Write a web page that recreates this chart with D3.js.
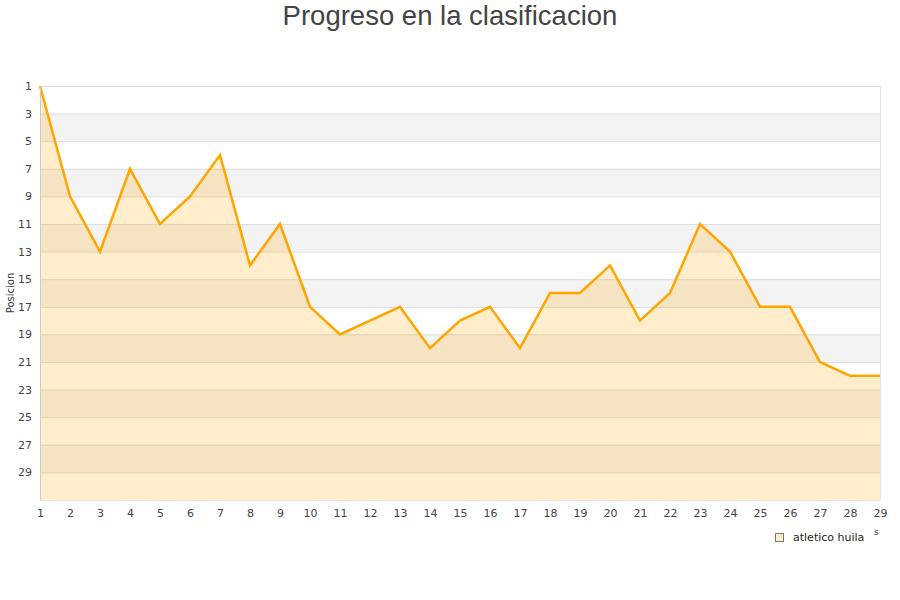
<!DOCTYPE html>
<html>
<head>
<meta charset="utf-8">
<script src="https://cdn.jsdelivr.net/npm/d3@7"></script>
<style>
  body { margin: 0; background: #fff; }
</style>
</head>
<body>
<div id="chart"></div>
<script>
const width = 900;
const height = 600;
const margin = { top: 86, right: 20, bottom: 100, left: 40 };

// jornadas y posicion de atletico huila
const jornadas = d3.range(1, 30);
const posiciones = [1, 9, 13, 7, 11, 9, 6, 14, 11, 17, 19, 18, 17, 20, 18, 17, 20, 16, 16, 14, 18, 16, 11, 13, 17, 17, 21, 22, 22];
const yTicks = [1, 3, 5, 7, 9, 11, 13, 15, 17, 19, 21, 23, 25, 27, 29];
const serie = "atletico huila";

const svg = d3.select("#chart")
  .append("svg")
  .attr("width", width)
  .attr("height", height);

const x = d3.scaleLinear()
  .domain([1, 29])
  .range([margin.left, width - margin.right]);

const y = d3.scaleLinear()
  .domain([1, 31])
  .range([margin.top, height - margin.bottom]);

// bandas alternas
svg.append("g")
  .selectAll("rect")
  .data(yTicks.filter((d, i) => i % 2 == 1))
  .enter()
  .append("rect")
  .attr("x", x(1))
  .attr("y", d => y(d))
  .attr("width", x(29) - x(1))
  .attr("height", d => y(d + 2) - y(d))
  .attr("fill", "#f3f3f3");

// lineas de grilla
svg.append("g")
  .selectAll("line")
  .data(yTicks)
  .enter()
  .append("line")
  .attr("x1", x(1))
  .attr("x2", x(29))
  .attr("y1", d => y(d) + 0.5)
  .attr("y2", d => y(d) + 0.5)
  .attr("stroke", "#dddddd");

svg.append("line")
  .attr("x1", x(29) + 0.5).attr("x2", x(29) + 0.5)
  .attr("y1", y(1)).attr("y2", y(31))
  .attr("stroke", "#e6e6e6");

svg.append("line")
  .attr("x1", x(1)).attr("x2", x(29))
  .attr("y1", y(31) + 0.5).attr("y2", y(31) + 0.5)
  .attr("stroke", "#e6e6e6");

// area y linea
const area = d3.area()
  .x((d, i) => x(jornadas[i]))
  .y0(y(31))
  .y1(d => y(d));

const line = d3.line()
  .x((d, i) => x(jornadas[i]))
  .y(d => y(d));

svg.append("path")
  .datum(posiciones)
  .attr("d", area)
  .attr("fill", "orange")
  .attr("fill-opacity", 0.2);

svg.append("path")
  .datum(posiciones)
  .attr("d", line)
  .attr("fill", "none")
  .attr("stroke", "orange")
  .attr("stroke-width", 2.5)
  .attr("stroke-linejoin", "miter");

// eje y
const yAxis = svg.append("g")
  .attr("transform", `translate(${margin.left},0)`)
  .call(d3.axisLeft(y).tickValues(yTicks).tickSize(0).tickPadding(8));
yAxis.select(".domain").attr("stroke", "#cccccc");
yAxis.selectAll("text")
  .attr("font-family", "DejaVu Sans")
  .attr("font-size", 11)
  .attr("fill", "#444");

// eje x
const xAxis = svg.append("g")
  .attr("transform", `translate(0,${y(31)})`)
  .call(d3.axisBottom(x).tickValues(jornadas).tickSize(0).tickPadding(9));
xAxis.select(".domain").remove();
xAxis.selectAll("text")
  .attr("font-family", "DejaVu Sans")
  .attr("font-size", 11)
  .attr("fill", "#444");

svg.append("text")
  .attr("transform", `translate(14,${(y(1) + y(31)) / 2}) rotate(-90)`)
  .attr("text-anchor", "middle")
  .attr("font-family", "DejaVu Sans")
  .attr("font-size", 10)
  .attr("fill", "#333")
  .text("Posicion");

svg.append("text")
  .attr("x", 874)
  .attr("y", 535)
  .attr("font-family", "DejaVu Sans")
  .attr("font-size", 9)
  .attr("fill", "#333")
  .text("s");

// titulo
svg.append("text")
  .attr("x", width / 2)
  .attr("y", 25)
  .attr("text-anchor", "middle")
  .attr("font-family", "Liberation Sans")
  .attr("font-size", 27.5)
  .attr("fill", "#444")
  .text("Progreso en la clasificacion");

// leyenda
const legend = svg.append("g").attr("transform", "translate(775,533)");
legend.append("rect")
  .attr("x", 0.5).attr("y", 0.5)
  .attr("width", 8).attr("height", 8)
  .attr("fill", "#feecca")
  .attr("stroke", "#777");
legend.append("text")
  .attr("x", 18)
  .attr("y", 8)
  .attr("font-family", "DejaVu Sans")
  .attr("font-size", 11)
  .attr("fill", "#222")
  .text(serie);
</script>
</body>
</html>
